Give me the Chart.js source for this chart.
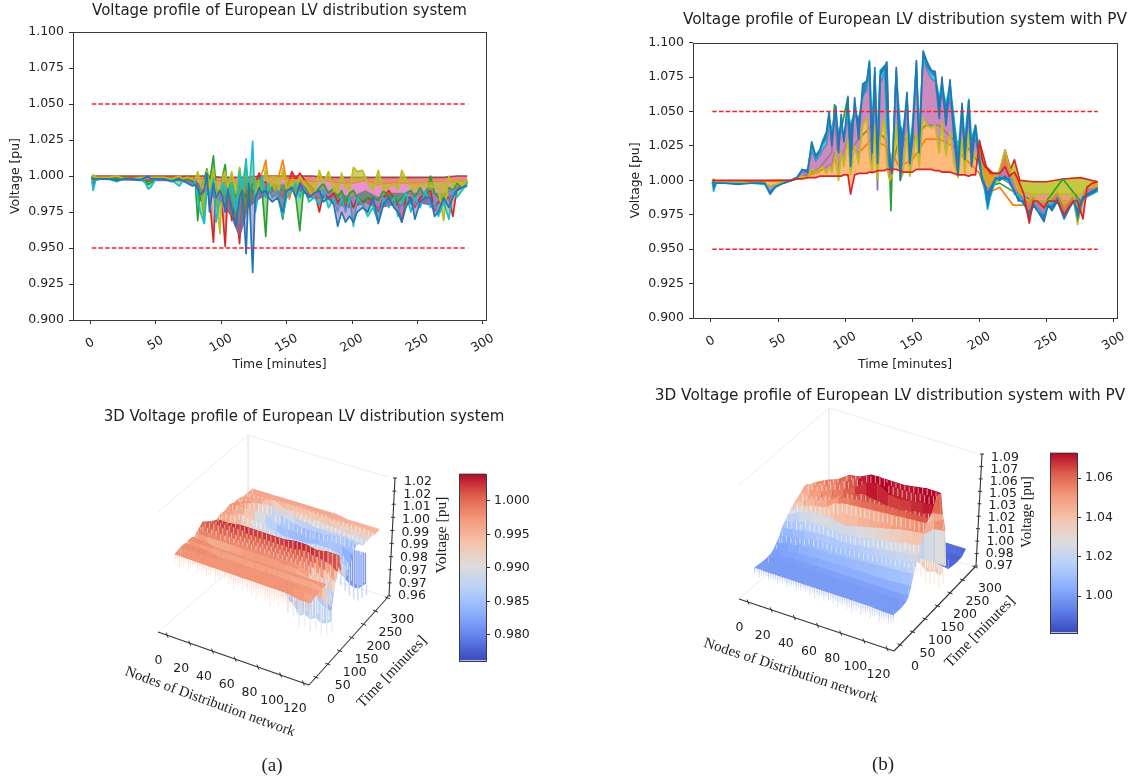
<!DOCTYPE html>
<html><head><meta charset="utf-8"><title>Voltage profiles</title>
<script src="https://cdn.jsdelivr.net/npm/chart.js@4/dist/chart.umd.min.js"></script>
<style>html,body{margin:0;padding:0;background:#fff;width:1132px;height:780px;overflow:hidden}canvas{position:absolute;filter:blur(.35px)}</style>
</head><body>
<canvas id="cA" width="500" height="380" style="left:0;top:0"></canvas>
<canvas id="cB" width="512" height="380" style="left:620px;top:0"></canvas>
<canvas id="sA" width="440" height="375" style="left:90px;top:405px"></canvas>
<canvas id="sB" width="482" height="395" style="left:650px;top:385px"></canvas>
<canvas id="bA" width="90" height="210" style="left:450px;top:462px"></canvas>
<canvas id="bB" width="82" height="203" style="left:1040px;top:441px"></canvas>
<script>
// ---- values are milli-pu (1000 = 1.000 pu)
const xTicks=[0,50,100,150,200,250,300];
const yTicks=[0.9,0.925,0.95,0.975,1,1.025,1.05,1.075,1.1];
const limitHi=1.05, limitLo=0.95, tEnds=[1,288];
// Chart (a) time samples
const tA=[1,2,4,8,14,20,26,32,38,42,
44,46,50,56,62,68,70,74,78,80,
82,84,87,89,91,94,96,99,101,103,
105,108,111,114,116,119,121,124,126,129,
131,134,136,139,143,147,150,154,157,160,
163,167,171,175,178,182,186,189,192,195,
198,201,204,208,212,216,220,224,228,232,
235,238,241,245,248,252,256,260,263,266,
270,274,277,280,284,288];
const aBlue=[999,998,998,998,998,997,998,998,997,999,
1000,998,998,998,996,998,997,995,993,994,
991,987,990,1002,975,995,985,990,985,975,
990,978,965,985,990,946,995,933,985,992,
988,990,985,982,985,975,990,992,985,995,
990,985,988,990,982,985,980,965,975,968,
972,968,975,978,975,985,967,980,985,978,
975,968,978,985,970,982,985,985,972,975,
985,978,985,990,992,993];
const aCyan=[999,990,997,998,998,996,998,998,998,995,
991,992,998,998,997,993,996,996,994,996,
985,975,967,990,985,998,968,985,995,990,
985,995,975,1003,990,1012,985,1024,975,990,
1000,985,995,985,990,972,985,990,995,985,
992,982,985,980,990,978,985,975,985,975,
985,965,985,980,972,978,968,985,978,985,
972,982,988,975,985,978,990,978,982,972,
982,970,990,985,990,995];
const aOlive=[999,1001,999,999,999,1000,998,998,999,998,
999,998,999,999,998,1000,998,999,998,997,
1003,995,967,1004,990,1005,985,960,1000,1003,
992,1003,988,1006,985,1003,990,1000,985,995,
990,1006,990,995,985,1005,990,995,985,1000,
995,990,985,1004,995,1003,990,988,1002,992,
990,1006,1003,1004,995,990,1004,990,992,995,
990,1004,998,992,990,995,992,993,992,990,
969,1000,992,997,993,997];
const aRed=[1000,992,999,999,999,999,999,999,999,998,
996,997,999,999,999,999,999,999,998,998,
992,983,990,993,985,954,992,985,975,951,
990,969,982,953,990,985,995,988,995,1002,
995,996,992,995,990,985,992,1003,998,1002,
998,994,990,975,988,985,988,982,985,978,
985,978,985,982,985,982,975,985,990,985,
980,968,985,985,978,985,988,990,975,982,
985,985,972,990,993,997];
const aGreen=[999,998,998,998,998,998,999,998,998,997,
994,995,998,998,997,998,997,998,996,997,
969,992,998,1005,995,1014,992,985,1000,1008,
990,1000,985,1005,992,1006,990,995,992,998,
992,958,992,985,988,970,990,992,985,962,
992,990,988,992,995,988,992,985,990,982,
988,990,985,980,985,985,983,990,985,985,
982,985,988,990,985,992,985,1000,988,985,
985,992,990,995,992,996];
const tAOrange=[130,132,134,136,144,147,150,152,154,156];
const aOrange=[1000,1004,1011,995,1000,1011,995,984,990,1000];
const tAMid=[1,40,70,80,90,100,108,114,120,130,140,150,160,170,180,190,200,210,220,230,240,250,260,270,280,288];
const aBrown=[1000,1000,1000,1000,1000,999,999,999,999,1000,1000,1000,1000,1000,999,999,999,999,999,999,999,999,999,999,1000,1000];
const aGold=[999,999,999,998,998,996,995,995,996,998,1000,998,998,996,997,995,995,997,994,995,995,995,996,996,996,997];
const aPink=[998,998,998,996,992,988,980,965,985,992,994,994,994,990,990,988,985,990,985,988,988,988,988,988,992,996];
const aPurple=[998,997,997,995,988,982,972,958,978,985,990,990,990,985,985,980,978,982,978,980,980,982,980,982,990,994];
// Chart (b) time samples
const tB=[1,2,4,10,20,30,40,44,48,54,
60,64,68,72,75,78,81,83,86,88,
90,93,95,97,99,102,104,107,110,113,
116,118,120,122,124,126,129,131,133,135,
138,141,143,146,148,150,153,155,158,161,
164,167,170,172,175,178,181,184,187,189,
192,194,197,200,202,204,206,208,212,215,
219,222,226,229,233,237,240,243,248,251,
254,258,263,266,270,273,277,280,284,288];
const bBlue=[999,998,998,998,997,998,998,990,995,998,
1000,1002,1008,1006,1028,1018,1022,1028,1035,1050,
1025,1054,1020,1048,1028,1060,1010,1060,1030,1070,
1072,1086,1020,1082,1012,1076,1082,1086,1010,1005,
1082,1000,1030,1064,1012,1030,1087,1020,1094,1086,
1080,1079,1045,1075,1040,1073,1030,1004,1056,1015,
1058,1010,1040,1010,1000,996,990,994,1002,1000,
1003,1000,992,985,985,972,982,978,970,982,
978,985,972,978,985,978,988,990,992,994];
const bCyan=[999,992,998,998,998,998,997,992,996,998,
1000,1002,1007,1008,1025,1015,1020,1026,1030,1045,
1035,1045,1035,1040,1030,1050,1040,1050,1045,1060,
1068,1087,1040,1078,1030,1080,1083,1040,1020,1010,
1078,1040,1035,1060,1025,1040,1085,1035,1090,1082,
1078,1075,1060,1070,1055,1070,1045,1020,1054,1030,
1059,1030,1040,1020,1005,992,979,988,1000,1003,
1000,1002,990,988,982,978,985,978,975,982,
982,988,975,980,985,970,985,988,990,992];
const bPurple=[999,999,999,999,998,998,998,991,996,998,
1000,1002,1006,1006,1022,1014,1018,1022,1026,1040,
1038,1050,1030,1040,1030,1045,1030,1050,1040,1062,
1065,1080,1010,1075,993,1070,1078,1082,1020,1008,
1080,1020,1025,1055,1015,1030,1080,1030,1088,1080,
1074,1072,1050,1065,1045,1060,1035,1015,1045,1025,
1045,1025,1030,1015,1000,995,990,990,1000,1002,
1000,998,992,990,985,975,983,980,975,985,
985,988,978,982,988,985,985,990,990,994];
const bOlive=[999,1001,999,999,999,998,998,996,997,999,
1000,1001,1003,1002,1008,1006,1008,1010,1005,1010,
1006,1020,1000,1020,1010,1030,1004,1025,1012,1040,
1045,1020,1005,1040,1000,1030,1045,1010,1000,1003,
1040,1000,1005,1035,1003,1015,1035,1010,1045,1040,
1038,1040,1020,1042,1018,1035,1012,1002,1030,1005,
1035,1010,1020,1012,1005,1002,996,995,1002,1008,
1022,1010,1000,992,988,985,990,985,985,985,
988,992,983,985,990,968,992,995,995,996];
const bRed=[1000,1000,1000,1000,1000,1000,1000,1000,1000,1000,
1000,1001,1001,1002,1002,1002,1003,1003,1003,1003,
1003,1003,1003,1003,1004,1004,990,1004,1005,1005,
1005,1006,1006,1006,1007,1007,1007,1008,1008,1008,
1008,1007,1006,1006,1006,1006,1008,1008,1008,1008,
1008,1007,1007,1006,1006,1006,1005,1004,1004,1004,
1003,1004,1004,1029,1015,1010,1008,1005,1005,1005,
1010,1003,1006,1000,990,969,985,985,980,985,
985,985,975,980,985,985,972,995,998,999];
const tBSpike=[1,60,80,90,92,94,102,103,110,120,130,133,134,135,140,150,160,170,180,190,200,205,215,225,240,250,262,275,288];
const bGreen=[999,1000,1008,1020,1055,1022,1061,1020,1030,1040,1030,1010,978,1010,1030,1030,1040,1040,1030,1025,1012,995,998,992,985,985,1001,985,995];
const bOrange=[999,1000,1006,1012,1020,1008,1030,1025,1020,1030,1025,1015,1005,1020,1010,1015,1030,1030,1025,1015,1005,990,995,982,982,982,985,985,995];
const tBTail=[200,205,210,215,219,223,226,230,240,250,262,275,288];
const bTop=[1028,1010,1005,1005,1022,1008,1015,1000,999,999,1001,1002,999];
const bTailMid=[1020,1000,998,1000,1012,1002,1005,992,990,990,990,990,997];
// 3D surfaces: rows = time, columns = nodes
const nodes3d=[0,10,20,30,40,50,60,70,80,90,100,110,120];
const sAT=[0,20,38,44,50,64,72,80,88,96,104,112,120,128,136,146,156,166,176,190,204,220,240,254,270,288];
const sALift=[0,0,0,0,0,0,0,0,0,0,0,0,0,0,1,4,8,12,15,15,12,8,6,4,1,0];
const sAZ=[
[997,997,997,997,997,997,997,997,997,997,997,996,996],
[998,998,998,998,998,998,998,998,998,998,998,997,997],
[998,998,998,997,997,997,997,997,997,997,997,997,997],
[997,996,995,995,995,995,995,995,995,994,994,994,993],
[998,998,998,998,998,998,998,998,998,998,998,998,997],
[998,998,997,997,997,997,997,997,997,997,997,997,997],
[997,994,993,994,995,996,996,996,996,995,994,993,984],
[998,998,998,998,998,998,998,998,997,997,995,985,982],
[999,999,998,998,998,998,998,998,998,998,996,987,982],
[1000,1000,999,999,999,999,999,999,999,999,998,994,988],
[1001,1002,1001,1000,1000,1000,1000,1000,1000,1000,999,997,993],
[1000,1002,1002,1002,1001,1001,1001,1001,1001,1002,1001,1000,997],
[999,1002,1002,1003,1003,1003,1003,1003,1004,1004,1003,1004,1004],
[998,999,999,999,999,999,1000,1000,1000,1000,1000,1001,996],
[997,997,996,996,996,996,996,996,996,997,997,995,991],
[996,995,994,993,992,992,992,992,993,993,994,993,985],
[996,995,993,990,990,989,989,989,990,990,990,990,984],
[997,996,995,991,988,986,985,985,985,986,986,985,982],
[997,996,995,992,988,985,984,984,983,984,985,985,982],
[997,997,996,994,991,988,986,985,985,985,986,987,985],
[998,998,997,996,995,993,990,989,988,988,988,988,987],
[997,997,997,996,995,994,993,992,991,990,990,989,988],
[997,996,995,994,993,993,993,992,991,991,990,990,990],
[996,996,996,996,995,995,995,994,994,993,993,992,992],
[996,996,996,996,996,996,996,996,995,995,995,995,994],
[996,996,996,996,996,996,996,996,996,995,995,995,995]];
const sBT=[0,30,50,60,70,80,90,100,110,120,130,140,150,160,170,180,190,196,200,206,209,220,250,270,288];
const sBShift=[0,0,0,0,2,5,7,8,8,6,0,-4,-5,-5,-5,-5,-5,-3,0,-30,0,0,0,0,0];
const sBLift=[0,0,0,0,0,0,0,0,0,0,0,0,0,3,7,9,9,4,0,0,0,0,0,0,0];
const sBZ=[
[1000,1000,1000,1000,1000,1000,1000,1000,1000,1000,1000,999,999],
[999,999,999,999,999,999,999,999,999,999,999,998,998],
[999,999,999,999,999,999,999,999,999,999,999,999,999],
[1000,1001,1001,1001,1002,1002,1002,1002,1002,1002,1002,1002,1002],
[1002,1004,1005,1006,1007,1007,1008,1008,1008,1008,1008,1009,1010],
[1006,1008,1010,1012,1013,1013,1014,1015,1016,1017,1018,1019,1020],
[1010,1013,1016,1018,1019,1019,1020,1021,1022,1023,1025,1027,1028],
[1017,1018,1021,1022,1023,1022,1023,1024,1026,1028,1030,1032,1034],
[1021,1024,1028,1029,1028,1027,1028,1030,1033,1035,1037,1040,1042],
[1025,1032,1036,1037,1036,1033,1036,1039,1042,1045,1048,1050,1052],
[1028,1036,1040,1042,1050,1053,1054,1055,1056,1057,1058,1059,1060],
[1031,1040,1044,1046,1054,1056,1058,1060,1060,1060,1061,1062,1062],
[1033,1042,1044,1048,1052,1058,1062,1060,1058,1058,1060,1062,1064],
[1035,1044,1046,1050,1054,1060,1068,1072,1064,1062,1064,1066,1068],
[1037,1046,1048,1052,1056,1062,1070,1072,1066,1066,1066,1068,1070],
[1040,1046,1050,1052,1058,1060,1066,1066,1066,1066,1068,1070,1070],
[1040,1040,1046,1048,1052,1056,1058,1060,1060,1060,1062,1064,1066],
[1010,1020,1024,1026,1030,1034,1036,1038,1040,1042,1044,1046,1048],
[1004,1005,1006,1006,1006,1006,1006,1006,1005,1012,1030,1040,1045],
[1001,1000,998,998,997,997,997,996,996,1005,1020,1030,1032],
[1000,1000,998,998,997,997,996,995,995,994,994,994,994],
[1000,999,999,998,998,997,996,995,994,993,992,990,988],
[999,998,997,996,994,993,992,991,990,989,988,987,986],
[999,998,997,996,994,993,992,991,990,989,988,987,986],
[999,998,997,996,995,994,993,992,992,991,990,990,990]];
// fringes hanging from the front edge, every 4 nodes
const fringeA=[4,6,4,6,4,5,4,6,4,6,5,4,6,7,5,6,6,7,8,6,8,9,7,8,6,9,7,8,6,7,6];
const fringeB=[6,9,6,8,7,9,6,10,7,9,8,7,9,11,8,10,9,10,12,9,11,13,9,12,9,13,9,12,9,11,8];
const ribTA=[96,104,112,120,128,146,166,190,220,240,270];
const ribDA=[4,5,6,7,5,4,3,4,5,4,6];
const ribTB=[90,110,130,150,170,180];
const ribDB=[6,8,10,9,8,8];
// curtains hanging below the surface
const curtA1N=[75,80,85,90,95,100,105,110,115,120], curtA1B=[985,978,977,972,974,972,974,972,973,975];
const curtA2N=[92,96,100,104,108,112,116,120], curtA2B=[978,976,974,972,971,971,973,975];
const curtB1N=[92,96,100,104,108,112,116,120], curtB1B=[994,992,990,985,985,988,984,990];
// colour bars
const cbA={min:0.97615,max:1.0041,ticks:[0.98,0.985,0.99,0.995,1]};
const cbB={min:0.9815,max:1.073,ticks:[1,1.02,1.04,1.06]};
const zLabelsA=['0.96','0.97','0.97','0.98','0.99','0.99','1.00','1.01','1.02','1.02'];
const zLabelsB=['0.97','0.98','1.00','1.01','1.02','1.03','1.05','1.06','1.07','1.09'];
const nodeTicks=[0,20,40,60,80,100,120];
const timeTicks3d=[0,50,100,150,200,250,300];

// ---- helpers
const TAB={blue:'#1f77b4',orange:'#ff7f0e',green:'#2ca02c',red:'#d62728',purple:'#9467bd',brown:'#8c564b',pink:'#e377c2',olive:'#bcbd22',cyan:'#17becf'};
const FONT='"DejaVu Sans"', SERIF='"Liberation Serif"';
const pts=(t,v)=>t.map((x,i)=>({x,y:v[i]/1000}));
const STOPS=[[59,76,192],[98,130,234],[141,176,254],[184,208,249],[221,220,220],[245,196,173],[244,154,123],[222,96,77],[180,4,38]];
function cw(v,cb,a){let x=Math.max(0,Math.min(1,(v-cb.min)/(cb.max-cb.min)))*8;const i=Math.min(7,Math.floor(x)),f=x-i;
 const c=STOPS[i].map((s,k)=>Math.round(s+(STOPS[i+1][k]-s)*f));return a===undefined?`rgb(${c})`:`rgba(${c},${a})`;}
const framePlugin={id:'frame',afterDraw(c){const a=c.chartArea,x=c.ctx;x.save();x.strokeStyle='#3a3a3a';x.lineWidth=1;x.strokeRect(Math.round(a.left)+.5,Math.round(a.top)+.5,Math.round(a.width),Math.round(a.height));
 const t=c.options.wideTitle;if(t){x.fillStyle='#222';x.font=`${t.size}px ${FONT}`;x.textAlign='center';x.textBaseline='middle';x.fillText(t.text,(a.left+a.right)/2,t.y);}x.restore();}};
function lineChart(id,sets,o){
 const lines=sets.map(s=>({data:s.data,borderColor:s.color,backgroundColor:s.fillColor||s.color,borderWidth:s.w||1.7,pointRadius:0,tension:0,fill:s.fill===undefined?false:s.fill,borderDash:s.dash||[],borderJoinStyle:'round'}));
 return new Chart(document.getElementById(id),{type:'line',data:{datasets:lines},plugins:[framePlugin],options:{
  responsive:false,animation:false,events:[],layout:{padding:o.pad},wideTitle:o.wideTitle,
  plugins:{legend:{display:false},tooltip:{enabled:false},title:o.title?{display:true,text:o.title,fullSize:false,color:'#222',font:{family:FONT,size:o.titleSize,weight:'normal'},padding:o.titlePad}:{display:false}},
  scales:{
   x:{type:'linear',min:-13.35,max:302.35,afterBuildTicks:s=>{s.ticks=xTicks.map(value=>({value}))},afterFit:s=>{s.height=o.xH},
    grid:{drawOnChartArea:false,drawTicks:true,tickLength:4,color:'#333'},border:{display:false},
    ticks:{autoSkip:false,minRotation:30,maxRotation:30,labelOffset:10,padding:o.xPad,color:'#222',font:{family:FONT,size:12.5},callback:v=>String(v).padEnd(3,' ')},
    title:{display:true,text:'Time [minutes]',color:'#222',font:{family:FONT,size:12.4},padding:{top:0,bottom:o.xTitleB}}},
   y:{min:0.9,max:1.1,afterBuildTicks:s=>{s.ticks=yTicks.map(value=>({value}))},afterFit:s=>{s.width=o.yW},
    grid:{drawOnChartArea:false,drawTicks:true,tickLength:4,color:'#333'},border:{display:false},
    ticks:{autoSkip:false,padding:5,color:'#222',font:{family:FONT,size:12.5},callback:v=>v.toFixed(3)},
    title:{display:true,text:'Voltage [pu]',color:'#222',font:{family:FONT,size:12.4},padding:{top:0,bottom:0}}}
  }}});
}
const limits=[{data:tEnds.map(x=>({x,y:limitHi})),color:'#fa1e23',dash:[4.5,2.2],w:1.6},{data:tEnds.map(x=>({x,y:limitLo})),color:'#fa1e23',dash:[4.5,2.2],w:1.6}];
// index: 0,1 limits, 2 blue, 3 cyan, 4 olive, 5 green, 6 red, 7 orange, 8 purple, 9 pink, 10 gold, 11 brown
lineChart('cA',[...limits,
 {data:pts(tA,aBlue),color:TAB.blue,fill:8,fillColor:'rgba(148,103,189,.55)'},
 {data:pts(tA,aCyan),color:TAB.cyan,fill:8,fillColor:'rgba(44,160,44,.4)'},
 {data:pts(tA,aOlive),color:TAB.olive,fill:10,fillColor:'rgba(188,189,34,.7)'},
 {data:pts(tA,aGreen),color:TAB.green,fill:9,fillColor:'rgba(44,160,44,.45)'},
 {data:pts(tA,aRed),color:TAB.red,fill:8,fillColor:'rgba(214,39,40,.4)'},
 {data:pts(tAOrange,aOrange),color:TAB.orange},
 {data:pts(tAMid,aPurple),color:TAB.purple,fill:9,fillColor:'rgba(148,103,189,.85)'},
 {data:pts(tAMid,aPink),color:TAB.pink,fill:10,fillColor:'rgba(227,119,194,.8)'},
 {data:pts(tAMid,aGold),color:TAB.orange,fill:11,fillColor:'rgba(214,39,40,.55)'},
 {data:pts(tAMid,aBrown),color:TAB.brown}
],{title:'Voltage profile of European LV distribution system',titleSize:15,titlePad:{top:2,bottom:12},pad:{left:8,right:14,top:0,bottom:8},xH:52,yW:65,xPad:7,xTitleB:0});
// index: 0,1 limits, 2 red, 3 blue, 4 olive, 5 cyan, 6 purple, 7 green, 8 orange, 9 tail top, 10 tail mid
lineChart('cB',[...limits,
 {data:pts(tB,bRed),color:TAB.red},
 {data:pts(tB,bBlue),color:TAB.blue,fill:5,fillColor:'rgba(31,119,180,.9)'},
 {data:pts(tB,bOlive),color:TAB.olive,fill:2,fillColor:'rgba(255,127,14,.55)'},
 {data:pts(tB,bCyan),color:TAB.cyan,fill:6,fillColor:'rgba(23,190,207,.8)'},
 {data:pts(tB,bPurple),color:TAB.purple,fill:4,fillColor:'rgba(190,110,175,.8)'},
 {data:pts(tBSpike,bGreen),color:TAB.green},
 {data:pts(tBSpike,bOrange),color:TAB.orange},
 {data:pts(tBTail,bTop),color:TAB.red,fill:10,fillColor:'rgba(188,189,34,.85)'},
 {data:pts(tBTail,bTailMid),color:TAB.olive,fill:3,fillColor:'rgba(227,119,100,.75)'}
],{wideTitle:{text:'Voltage profile of European LV distribution system with PV',size:15.3,y:20},pad:{left:8,right:15,top:42.7,bottom:8},xH:54,yW:65,xPad:7,xTitleB:0});

// ---- 3D surfaces, drawn through hidden linear scales in page units
function surface(id,L,T,W,H,cfg){
 const lift=(i,j)=>cfg.lift?cfg.lift[i]/1000*Math.min(1,nodes3d[j]/40):0, shift=i=>cfg.shift?cfg.shift[i]/1000:0;
 const P=(n,t,z)=>{const u=(n-cfg.n0)/cfg.nr,v=(t-cfg.t0)/cfg.tr,[A,B,C,D]=cfg.c;
  const w=[(1-u)*(1-v),u*(1-v),u*v,(1-u)*v];
  return {x:w[0]*A[0]+w[1]*B[0]+w[2]*C[0]+w[3]*D[0],y:w[0]*A[1]+w[1]*B[1]+w[2]*C[1]+w[3]*D[1]-cfg.k*(z-cfg.zmin)};};
 const zAt=(n,t)=>{let i=Math.max(0,cfg.T.findIndex(x=>x>=t));const j=Math.min(12,Math.round(n/10));return cfg.Z[i][j]/1000+lift(i,j);};
 const ds=[],add=(data,o)=>{ds.push(Object.assign({data,borderWidth:0,pointRadius:0,tension:0,fill:false,borderColor:'transparent',backgroundColor:'transparent'},o));return ds.length-1;};
 const seg=(list,color,w)=>{const d=[];list.forEach(([a,b])=>{d.push(a,b,{x:b.x,y:null});});return add(d,{borderColor:color,borderWidth:w||1,spanGaps:false});};
 const u0=cfg.n0,u1=cfg.n0+cfg.nr,v0=cfg.t0,v1=cfg.t0+cfg.tr,zm=cfg.zmin,zx=cfg.zmax;
 add([P(u0,v0,zm),P(u1,v0,zm)],{borderColor:'#333',borderWidth:1.1});
 add([P(u1,v0,zm),P(u1,v1,zm)],{borderColor:'#333',borderWidth:1.1});
 const Cb=P(u1,v1,zm),Ct=P(u1,v1,zx),dz=6;
 const zTick=i=>({x:Cb.x+1+dz*i/9,y:Cb.y-1-(Cb.y-Ct.y-2)*i/9});
 add([zTick(0),zTick(9)],{borderColor:'#333',borderWidth:1.1});
 seg(nodeTicks.map(n=>{const a=P(n,v0,zm);return [{x:a.x-1,y:a.y-2.5},{x:a.x+1,y:a.y+2.5}];}),'#333');
 seg(timeTicks3d.map(t=>{const a=P(u1,t,zm);return [{x:a.x-2.5,y:a.y-1},{x:a.x+2.5,y:a.y+1}];}),'#333');
 seg(cfg.zLabels.map((_,i)=>{const a=zTick(i);return [{x:a.x-2,y:a.y},{x:a.x+2,y:a.y}];}),'#333');
 const t0=cfg.T[0],fr=[];
 cfg.fringe.forEach((d,i)=>{const n=i*4,z=zAt(n,t0);fr.push([P(n,t0,z),P(n,t0,z-d/1000)]);if(n<120)fr.push([P(n+2,t0,z),P(n+2,t0,z-.7*d/1000)]);});
 seg(fr.map(([a,b])=>[a,{x:a.x,y:(a.y+b.y)/2}]),cfg.fringeColor,1.1);
 seg(fr,cfg.fringeColor,1.1);
 // surface strips, front first so the library paints them back to front
 const rowPts=i=>cfg.Z[i].map((z,j)=>P(nodes3d[j],cfg.T[i],z/1000+lift(i,j)));
 let frontP=rowPts(0),front=add(frontP);
 for(let i=0;i<cfg.T.length-1;i++){
  const tb=cfg.T[i+1],ri=cfg.ribT.indexOf(tb),back=rowPts(i+1);
  if(ri>=0){const d=cfg.ribD[ri]/1000,list=[];for(let n=2;n<=118;n+=4){const z=zAt(n,tb);list.push([P(n,tb,z),P(n,tb,z-d)]);}seg(list,'rgba(255,255,255,.22)',1);}
  const cs=(shift(i)+shift(i+1))/2;
  for(let j=0;j<12;j++){
   const m=(cfg.Z[i][j]+cfg.Z[i][j+1]+cfg.Z[i+1][j]+cfg.Z[i+1][j+1])/4000-cs,col=cw(m,cfg.cb);
   add([back[j],back[j+1]],{fill:front,backgroundColor:col,borderColor:col,borderWidth:1});
  }
  const mean=cfg.Z[i+1].reduce((a,b)=>a+b,0)/13000-cs,colL=cw((cfg.Z[i][0]+cfg.Z[i][1]+cfg.Z[i+1][0]+cfg.Z[i+1][1])/4000-cs,cfg.cb),colR=cw((cfg.Z[i][12]+cfg.Z[i+1][12])/2000-cs,cfg.cb);
  add([frontP[0],back[0]],{fill:front,backgroundColor:colL,borderColor:colL,borderWidth:1});
  const backIdx=add(back,{fill:front,backgroundColor:cw(mean,cfg.cb)});
  add([frontP[12],back[12]],{fill:backIdx,backgroundColor:colR,borderColor:colR,borderWidth:1});
  front=backIdx;frontP=back;
 }
 cfg.curtains.forEach(c=>{
  const bot=c.n.map((n,i)=>P(n,c.t,c.b[i]/1000)),topP=c.n.map(n=>P(n,c.t,c.top/1000));
  const streak=[];c.n.forEach((n,i)=>{streak.push([topP[i],bot[i]]);if(i<c.n.length-1)streak.push([P(n+2,c.t,c.top/1000),P(n+2,c.t,c.b[i]/1000+.002*2000/cfg.k)]);});
  seg(streak,'rgba(255,255,255,.3)',1);
  seg(c.n.map((n,i)=>[bot[i],P(n,c.t,c.b[i]/1000-0.006*2000/cfg.k)]),cw(c.c,cfg.cb,.35),1.5);
  const ti=add(topP,{});
  add(bot,{fill:ti,backgroundColor:cw(c.c,cfg.cb)});
 });
 const paneC='#ececec',Dt=P(u0,v1,zx),Db=P(u0,v1,zm);
 add([P(u0,v0,zx),Dt],{borderColor:paneC,borderWidth:1});
 add([Dt,Ct],{borderColor:paneC,borderWidth:1});
 add([Dt,Db],{borderColor:paneC,borderWidth:1});
 add([P(u0,v0,zm),Db],{borderColor:paneC,borderWidth:1});
 add([Db,Cb],{borderColor:paneC,borderWidth:1});
 const texts=[...cfg.texts];
 nodeTicks.forEach(n=>{const a=P(n,v0,zm);texts.push({s:String(n),x:a.x-8.5,y:a.y+26,f:`12.5px ${FONT}`});});
 timeTicks3d.forEach(t=>{const a=P(u1,t,zm);texts.push({s:String(t),x:a.x+15,y:a.y+22,f:`12.5px ${FONT}`});});
 cfg.zLabels.forEach((s,i)=>{const a=zTick(i);texts.push({s,x:a.x+23,y:a.y+i*0.42,f:`12.5px ${FONT}`});});
 new Chart(document.getElementById(id),{type:'line',data:{datasets:ds},plugins:[{id:'texts',afterDraw(c){const x=c.ctx;x.save();x.textAlign='center';x.textBaseline='middle';x.fillStyle='#222';
   texts.forEach(t=>{x.save();x.translate(c.scales.x.getPixelForValue(t.x),c.scales.y.getPixelForValue(t.y));x.rotate((t.r||0)*Math.PI/180);x.font=t.f;x.fillText(t.s,0,0);x.restore();});x.restore();}}],
  options:{responsive:false,animation:false,events:[],layout:{padding:0},plugins:{legend:{display:false},tooltip:{enabled:false},title:{display:false}},
   scales:{x:{type:'linear',display:false,min:L,max:L+W},y:{type:'linear',display:false,reverse:true,min:T,max:T+H}}}});
}
surface('sA',90,405,440,375,{n0:-8,nr:133,t0:-29,tr:332,c:[[158,632],[309,685],[388,597],[248,555]],k:2000,zmin:0.96,zmax:1.02,T:sAT,Z:sAZ,lift:sALift,cb:cbA,
 fringe:fringeA,fringeColor:'rgba(244,154,123,.2)',ribT:ribTA,ribD:ribDA,zLabels:zLabelsA,
 curtains:[{t:235,n:curtA2N,top:990,b:curtA2B,c:0.9815},{t:92,n:curtA1N,top:990,b:curtA1B,c:0.9875}],
 texts:[{s:'3D Voltage profile of European LV distribution system',x:304,y:417,f:`15px ${FONT}`},
  {s:'Voltage [pu]',x:442,y:535,r:-90,f:`15.5px ${SERIF}`},
  {s:'Nodes of Distribution network',x:210,y:702,r:20,f:`14.7px ${SERIF}`},
  {s:'Time [minutes]',x:392,y:672,r:-46,f:`15.2px ${SERIF}`},
  {s:'(a)',x:272,y:766,f:`19px ${SERIF}`}]});
surface('sB',650,385,482,395,{n0:-7.8,nr:133.8,t0:-24,tr:324,c:[[739,599],[894,651],[975,567],[829,522]],k:950,zmin:0.97,zmax:1.09,T:sBT,Z:sBZ,shift:sBShift,lift:sBLift,cb:cbB,
 fringe:fringeB,fringeColor:'rgba(98,130,234,.22)',ribT:ribTB,ribD:ribDB,zLabels:zLabelsB,
 curtains:[{t:200,n:curtB1N,top:1010,b:curtB1B,c:1.035}],
 texts:[{s:'3D Voltage profile of European LV distribution system with PV',x:890,y:396,f:`15.3px ${FONT}`},
  {s:'Voltage [pu]',x:1027,y:512,r:-90,f:`14.5px ${SERIF}`},
  {s:'Nodes of Distribution network',x:791,y:671,r:18,f:`14.9px ${SERIF}`},
  {s:'Time [minutes]',x:980,y:632,r:-45.7,f:`15.2px ${SERIF}`},
  {s:'(b)',x:883,y:765,f:`19px ${SERIF}`}]});

// ---- colour bars
function colorbar(id,cb,pad,yW,fmt){
 const N=96,sets=[];
 for(let i=0;i<N;i++){const lo=cb.min+(cb.max-cb.min)*i/N,hi=cb.min+(cb.max-cb.min)*(i+1.3)/N,col=cw(cb.min+(cb.max-cb.min)*(i+.5)/N,cb);
  sets.push({data:[[lo,Math.min(hi,cb.max)]],backgroundColor:col,borderWidth:0,barPercentage:1,categoryPercentage:1,grouped:false});}
 new Chart(document.getElementById(id),{type:'bar',data:{labels:['v'],datasets:sets},plugins:[framePlugin],options:{responsive:false,animation:false,events:[],layout:{padding:pad},
  plugins:{legend:{display:false},tooltip:{enabled:false}},
  scales:{x:{display:false},y:{position:'right',min:cb.min,max:cb.max,afterBuildTicks:s=>{s.ticks=cb.ticks.map(value=>({value}))},afterFit:s=>{s.width=yW},
   grid:{drawOnChartArea:false,drawTicks:true,tickLength:4,color:'#333'},border:{display:false},
   ticks:{autoSkip:false,padding:4,color:'#222',font:{family:FONT,size:12.5},callback:v=>v.toFixed(fmt)}}}}});
}
colorbar('bA',cbA,{left:9,right:0,top:10,bottom:9},54,3);
colorbar('bB',cbB,{left:10,right:0,top:10,bottom:10},45,2);
</script>
</body></html>
